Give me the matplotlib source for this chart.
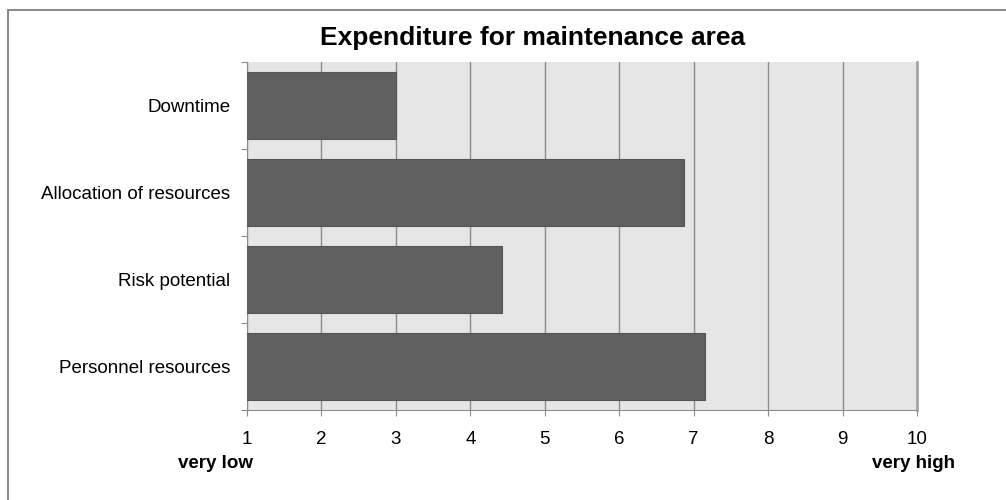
import numpy as np
import matplotlib.pyplot as plt
from matplotlib.patches import Rectangle

plt.rcParams['font.family'] = ['Liberation Sans', 'DejaVu Sans']

categories = ["Downtime", "Allocation of resources", "Risk potential", "Personnel resources"]
scores = [3.0, 6.87, 4.43, 7.15]
xticks = [1, 2, 3, 4, 5, 6, 7, 8, 9, 10]

fig = plt.figure(figsize=(10.06, 5.0), dpi=100)

# outer chart frame
fig.patches.append(Rectangle((8 / 1006, -0.1), 1.1, 1 - 10 / 500 + 0.1,
                             transform=fig.transFigure, fill=False,
                             edgecolor='#8c8c8c', linewidth=1.5))

ax = fig.add_axes([247 / 1006, 1 - 410 / 500, 670 / 1006, 348 / 500])
ax.set_facecolor('#e6e6e6')

y = np.arange(len(categories))
ax.barh(y, scores, height=0.78, color='#606060', edgecolor='#555555',
        linewidth=0.8, zorder=3)

ax.set_xlim(1, 10)
ax.set_ylim(len(categories) - 0.5, -0.5)
ax.set_xticks(xticks)
ax.set_xticklabels([str(t) for t in xticks], fontsize=13.5)
ax.xaxis.grid(True, color='#8c8c8c', linewidth=1.0, zorder=1)
ax.set_axisbelow(True)

# category labels sit between the boundary ticks
ax.set_yticks(np.arange(-0.5, len(categories), 1.0))
ax.set_yticklabels([])
ax.set_yticks(y, minor=True)
ax.set_yticklabels(categories, minor=True, fontsize=13.5)
ax.tick_params(axis='y', which='minor', length=0, pad=12)
ax.tick_params(axis='y', which='major', length=4.5, color='#8c8c8c')
ax.tick_params(axis='x', length=4.5, color='#8c8c8c', pad=10.5)

for side in ['left', 'bottom']:
    ax.spines[side].set_color('#8c8c8c')
ax.spines['top'].set_visible(False)
ax.spines['right'].set_color('#a6a6a6')
ax.spines['right'].set_linewidth(2)

fig.text(533 / 1006, 1 - 38 / 500, "Expenditure for maintenance area",
         ha='center', va='center', fontsize=19, fontweight='bold')
fig.text(215 / 1006, 1 - 463 / 500, "very low", ha='center', va='center',
         fontsize=13.5, fontweight='bold')
fig.text(913 / 1006, 1 - 463 / 500, "very high", ha='center', va='center',
         fontsize=13.5, fontweight='bold')

fig.savefig('out.png', dpi=100)
